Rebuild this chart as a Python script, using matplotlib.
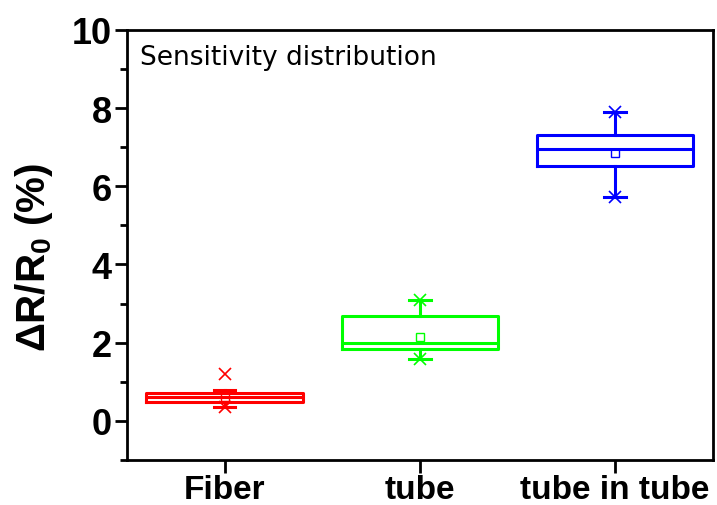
import numpy as np
import matplotlib
matplotlib.use("Agg")
import matplotlib.pyplot as plt
from matplotlib.ticker import MultipleLocator

plt.rcParams['font.family'] = ['Liberation Sans', 'DejaVu Sans']
plt.rcParams['mathtext.fontset'] = 'custom'
plt.rcParams['mathtext.default'] = 'bf'
plt.rcParams['mathtext.bf'] = 'Liberation Sans:bold'
plt.rcParams['mathtext.rm'] = 'Liberation Sans'

# dados
categorias = ['Fiber', 'tube', 'tube in tube']
cores = ['#FF0000', '#00FF00', '#0000FF']
q1 = [0.49, 1.85, 6.51]
mediana = [0.60, 2.00, 6.95]
q3 = [0.72, 2.67, 7.31]
whis_baixo = [0.36, 1.59, 5.72]
whis_alto = [0.79, 3.08, 7.90]
medias = [0.62, 2.15, 6.85]
minimos = [0.36, 1.59, 5.72]
maximos = [1.20, 3.08, 7.90]
rotulos_y = ['0', '2', '4', '6', '8', '10']

fig = plt.figure(figsize=(7.17, 5.06), dpi=100)
ax = fig.add_axes([0.177, 0.089, 0.817, 0.850])

posicoes = np.arange(1, len(categorias) + 1)

for i in range(len(categorias)):
    stats = [dict(med=mediana[i], q1=q1[i], q3=q3[i], whislo=whis_baixo[i],
                  whishi=whis_alto[i], mean=medias[i], fliers=[])]
    c = cores[i]
    ax.bxp(stats, positions=[posicoes[i]], widths=0.8, capwidths=0.11,
           showmeans=True, showfliers=False,
           boxprops=dict(color=c, linewidth=2.2),
           medianprops=dict(color=c, linewidth=2.2),
           whiskerprops=dict(color=c, linewidth=2.2),
           capprops=dict(color=c, linewidth=2.2),
           meanprops=dict(marker='s', markerfacecolor='none', markeredgecolor=c,
                          markersize=6, markeredgewidth=1))
    # min e max
    ax.plot([posicoes[i], posicoes[i]], [minimos[i], maximos[i]], linestyle='none',
            marker='x', color=c, markersize=8, markeredgewidth=1.2)

ax.set_xlim(0.5, 3.5)
ax.set_ylim(-1, 10)
ax.set_xticks(posicoes)
ax.set_xticklabels(categorias, fontsize=24, fontweight='bold')
ax.set_yticks([float(v) for v in rotulos_y])
ax.yaxis.set_minor_locator(MultipleLocator(1))
ax.set_yticklabels(rotulos_y, fontsize=26, fontweight='bold')

ax.tick_params(axis='both', which='major', direction='out', length=9, width=2)
ax.tick_params(axis='y', which='major', pad=2)
ax.tick_params(axis='x', which='major', pad=1)
ax.tick_params(axis='y', which='minor', direction='out', length=5, width=2)
ax.tick_params(axis='x', which='minor', bottom=False)
for lado in ax.spines.values():
    lado.set_linewidth(2)

ax.set_ylabel('ΔR/R$_0$ (%)', fontsize=29, fontweight='bold')
ax.yaxis.set_label_coords(-0.123, 0.474)

ax.text(0.022, 0.921, 'Sensitivity distribution', transform=ax.transAxes,
        fontsize=19, family='DejaVu Sans', va='baseline', ha='left')

fig.savefig('out.png', dpi=100)
